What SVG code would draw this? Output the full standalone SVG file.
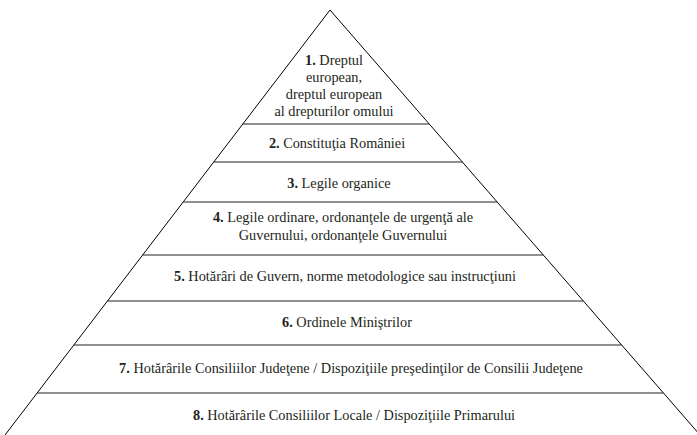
<svg xmlns="http://www.w3.org/2000/svg" width="697" height="435" viewBox="0 0 697 435">
<style>
text{font-family:"Liberation Serif","Times New Roman",serif;font-size:14.3px;fill:#231f20;text-anchor:middle}
.b{font-weight:bold}
.edge{stroke:#000;stroke-width:1;fill:none}
.sep{stroke:#222;stroke-width:1.2;fill:none}
</style>
<rect width="697" height="435" fill="#fff"/>
<g id="connectors">
<path class="edge" d="M5,435 L330,10 L700,435"/>
<line class="sep" x1="242.8" y1="124" x2="429.2" y2="124"/>
<line class="sep" x1="213.7" y1="162" x2="462.3" y2="162"/>
<line class="sep" x1="183.1" y1="202" x2="497.2" y2="202"/>
<line class="sep" x1="142.6" y1="255" x2="543.3" y2="255"/>
<line class="sep" x1="107.4" y1="301" x2="583.3" y2="301"/>
<line class="sep" x1="73.7" y1="345" x2="621.7" y2="345"/>
<line class="sep" x1="37" y1="393" x2="663.4" y2="393"/>
</g>
<g id="level1">
<text x="334" y="65"><tspan class="b">1.</tspan> Dreptul</text>
<text x="334" y="82">european,</text>
<text x="334" y="99">dreptul european</text>
<text x="334" y="116">al drepturilor omului</text>
</g>
<g id="level2"><text x="337" y="148"><tspan class="b">2.</tspan> Constituţia României</text></g>
<g id="level3"><text x="339" y="188"><tspan class="b">3.</tspan> Legile organice</text></g>
<g id="level4">
<text x="343" y="222"><tspan class="b">4.</tspan> Legile ordinare, ordonanţele de urgenţă ale</text>
<text x="343" y="240">Guvernului, ordonanţele Guvernului</text>
</g>
<g id="level5"><text x="345" y="281"><tspan class="b">5.</tspan> Hotărâri de Guvern, norme metodologice sau instrucţiuni</text></g>
<g id="level6"><text x="347" y="327"><tspan class="b">6.</tspan> Ordinele Miniştrilor</text></g>
<g id="level7"><text x="351" y="373"><tspan class="b">7.</tspan> Hotărârile Consiliilor Judeţene / Dispoziţiile preşedinţilor de Consilii Judeţene</text></g>
<g id="level8"><text x="354" y="420"><tspan class="b">8.</tspan> Hotărârile Consiliilor Locale / Dispoziţiile Primarului</text></g>
</svg>
